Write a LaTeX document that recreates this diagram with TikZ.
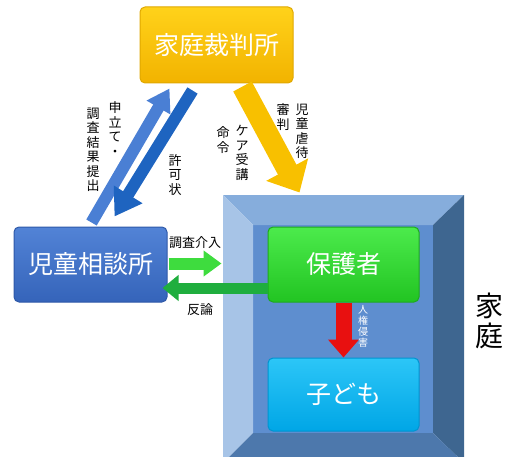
\documentclass[tikz,border=0pt]{standalone}
\usepackage{fontspec}
\newfontfamily\jp{Noto Sans CJK JP}
\usetikzlibrary{arrows.meta,calc}
\definecolor{yelT}{HTML}{FFD21A}
\definecolor{yelB}{HTML}{F2B300}
\definecolor{yelD}{HTML}{E0A800}
\definecolor{bluT}{HTML}{5283D6}
\definecolor{bluB}{HTML}{3564BA}
\definecolor{bluD}{HTML}{2E58A8}
\definecolor{grnT}{HTML}{4CEB4C}
\definecolor{grnB}{HTML}{22C422}
\definecolor{grnD}{HTML}{1EAA1E}
\definecolor{cyaT}{HTML}{2CC6F7}
\definecolor{cyaB}{HTML}{00A6E6}
\definecolor{cyaD}{HTML}{0094D0}
\definecolor{frTop}{HTML}{86ADDC}
\definecolor{frLeft}{HTML}{A7C4E7}
\definecolor{frRight}{HTML}{3E6690}
\definecolor{frBot}{HTML}{4D78AC}
\definecolor{frIn}{HTML}{5E8ECF}
\definecolor{arUp}{HTML}{4A7FD4}
\definecolor{arDown}{HTML}{1E64C0}
\definecolor{arYel}{HTML}{F8C000}
\definecolor{arGrn}{HTML}{3EDC3E}
\definecolor{arGrnD}{HTML}{1FAE3E}
\definecolor{arRed}{HTML}{E81010}
\tikzset{
  boxstyle/.style={rectangle, rounded corners=5pt, draw=#1, line width=1pt,
    text=white, font=\jp\fontsize{25}{28}\selectfont, inner sep=0pt},
  vlabel/.style={font=\jp\fontsize{13}{14.5}\selectfont, align=center, inner sep=0pt, text=black},
  blockarrow/.style={line width=#1, line cap=butt},
}
\begin{document}
\begin{tikzpicture}[x=1pt,y=-1pt]
\useasboundingbox (0,0) rectangle (508,457);
% frame (household)
\begin{scope}
\clip (0,0) rectangle (508,457);
\fill[frIn] (253,225) rectangle (433,433);
\fill[frTop] (223,195) -- (464,195) -- (433,225) -- (253,225) -- cycle;
\fill[frLeft] (223,195) -- (253,225) -- (253,433) -- (223,463) -- cycle;
\fill[frRight] (464,195) -- (464,463) -- (433,433) -- (433,225) -- cycle;
\fill[frBot] (223,463) -- (253,433) -- (433,433) -- (464,463) -- cycle;
\end{scope}
% boxes
\node[boxstyle=yelD, top color=yelT, bottom color=yelB, minimum width=153pt, minimum height=76pt]
  (court) at (216.5,45) {家庭裁判所};
\node[boxstyle=bluD, top color=bluT, bottom color=bluB, minimum width=153pt, minimum height=75pt]
  (jido) at (90.5,264.5) {児童相談所};
\node[boxstyle=grnD, top color=grnT, bottom color=grnB, minimum width=151pt, minimum height=75pt]
  (parent) at (343.5,264.5) {保護者};
\node[boxstyle=cyaD, top color=cyaT, bottom color=cyaB, minimum width=151pt, minimum height=73pt]
  (child) at (343.5,394.5) {子ども};
% arrow end coordinates
\coordinate (upT) at ($(jido.north west)+(78,-4)$);
\coordinate (upH) at ($(court.south west)+(30,5)$);
\coordinate (dnT) at ($(court.south west)+(53,7)$);
\coordinate (dnH) at ($(jido.north west)+(101,-10)$);
\coordinate (yT) at ($(court.south west)+(103,3)$);
\coordinate (yH) at ($(parent.north west)+(32,-34)$);
\coordinate (gT) at ($(jido.east)+(1,-1)$);
\coordinate (gH) at ($(jido.east)+(54,-1)$);
\coordinate (rH) at ($(jido.east)+(-5,23.5)$);
\coordinate (rT) at ($(parent.west)+(0,23.5)$);
% arrows
\draw[blockarrow=12pt, arUp, -{Triangle[length=22pt,width=26pt]}] (upT) -- (upH);
\draw[blockarrow=12pt, arDown, -{Triangle[length=26pt,width=32pt]}] (dnT) -- (dnH);
\draw[blockarrow=21pt, arYel, -{Triangle[length=26pt,width=46pt]}] (yT) -- (yH);
\draw[blockarrow=12pt, arGrn, -{Triangle[length=18pt,width=25pt]}] (gT) -- (gH);
\draw[blockarrow=11pt, arGrnD, -{Triangle[length=16pt,width=25pt]}] (rT) -- (rH);
\draw[blockarrow=16pt, arRed, -{Triangle[length=18pt,width=30pt]}] (parent.south) -- (child.north);
% labels
\node[vlabel] (l1) at (115,129) {申\\立\\て\\・};
\node[vlabel] (l2) at (93,150) {調\\査\\結\\果\\提\\出};
\node[vlabel] (l3) at (175,175) {許\\可\\状};
\node[vlabel] (l4) at (302,131) {児\\童\\虐\\待};
\node[vlabel] (l5) at (283,117) {審\\判};
\node[vlabel] (l6) at (242,153) {ケ\\ア\\受\\講};
\node[vlabel] (l7) at (223,140) {命\\令};
\node[vlabel, font=\jp\fontsize{13}{14}\selectfont] (l8) at (195,243) {調査介入};
\node[vlabel, font=\jp\fontsize{13}{14}\selectfont] (l9) at (200,310) {反論};
\node[vlabel, text=white, font=\jp\fontsize{10}{11}\selectfont] (l10) at (363,326) {人\\権\\侵\\害};
\node[vlabel, font=\jp\fontsize{28}{30}\selectfont] (l11) at (489,321) {家\\庭};
\end{tikzpicture}
\end{document}
